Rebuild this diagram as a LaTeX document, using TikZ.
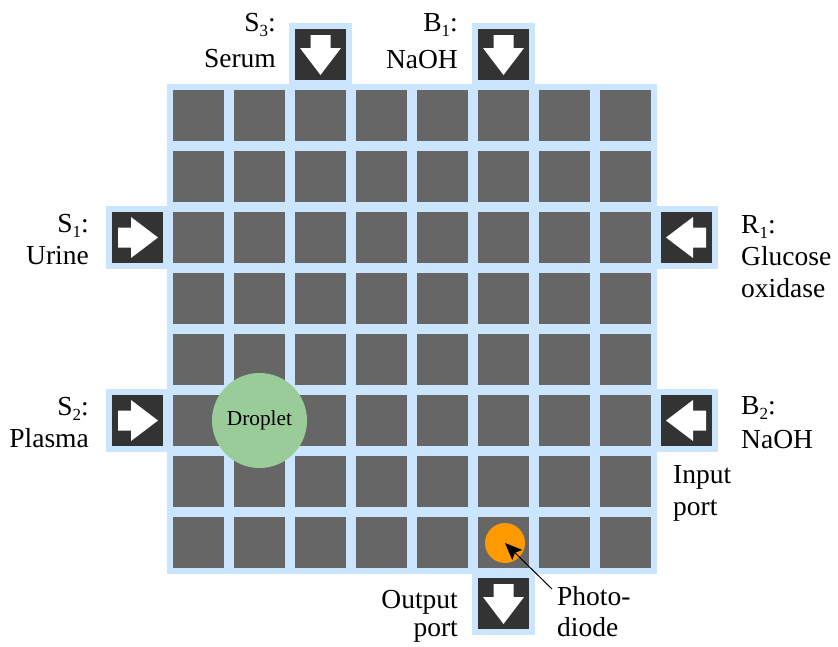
\documentclass[tikz,border=0pt]{standalone}
\usepackage{fontspec}
\setmainfont{Liberation Serif}
\newfontfamily\lserif{Liberation Serif}
\usetikzlibrary{arrows.meta}
\definecolor{gridblue}{RGB}{204,229,255}
\definecolor{cellgray}{RGB}{102,102,102}
\definecolor{portdark}{RGB}{51,51,51}
\definecolor{dropgreen}{RGB}{153,204,153}
\definecolor{diodeorange}{RGB}{255,153,0}
\newcommand\myport[4]{%
  \node[portbg] (#1bg) at (#2,#3) {};
  \node[portbox] (#1) at (#2,#3) {};
  \fill[white, shift={(#2,#3)}, rotate=#4] (-10,-19.5) -- (10,-19.5) -- (10,-6.5) -- (20.5,-6.5) -- (0,20.5) -- (-20.5,-6.5) -- (-10,-6.5) -- cycle;
}
\newcommand\sub[1]{\raisebox{-5pt}{\fontsize{17}{17}\selectfont #1}}
\begin{document}
\begin{tikzpicture}[x=1pt,y=-1pt,
  cell/.style={rectangle, fill=cellgray, minimum size=51pt, inner sep=0pt},
  portbox/.style={rectangle, fill=portdark, minimum size=51pt, inner sep=0pt},
  portbg/.style={rectangle, fill=gridblue, minimum size=63pt, inner sep=0pt},
  lbl/.style={inner sep=0pt, font=\lserif\fontsize{27.5}{33}\selectfont},
  lblr/.style={lbl, anchor=base east},
  lbll/.style={lbl, anchor=base west}]
\useasboundingbox (0,0) rectangle (838,646);
\fill[gridblue] (167,84) rectangle (657,574);
% ports
\myport{pS3}{320.5}{54.5}{0}
\myport{pB1}{503.5}{54.5}{0}
\myport{pS1}{137.5}{237.5}{90}
\myport{pS2}{137.5}{420.5}{90}
\myport{pR1}{686.5}{237.5}{-90}
\myport{pB2}{686.5}{420.5}{-90}
\myport{pOut}{503.5}{603.5}{0}
% cells
\foreach \i in {0,...,7}
  \foreach \j in {0,...,7}
    \node[cell] (c\i\j) at ({198.5+61*\i},{115.5+61*\j}) {};
% droplet and photodiode
\node[circle, fill=dropgreen, minimum size=95pt, inner sep=0pt, font=\lserif\fontsize{21.3}{25}\selectfont] (drop) at (259.5,420.5) {Droplet};
\node[circle, fill=diodeorange, minimum size=40pt, inner sep=0pt] (diode) at (505,543) {};
\coordinate (diodetail) at (552,589);
\draw[line width=1pt, -{Stealth[length=17pt, width=14pt, inset=3pt]}] (diodetail) -- (diode.center);
% labels
\node[lblr] (tS3a) at (276,31) {S\sub{3}:};
\node[lblr] (tS3b) at (276,67) {Serum};
\node[lblr] (tB1a) at (458,31) {B\sub{1}:};
\node[lblr] (tB1b) at (458,68) {NaOH};
\node[lblr] (tS1a) at (89,232) {S\sub{1}:};
\node[lblr] (tS1b) at (89,264) {Urine};
\node[lblr] (tS2a) at (89,415) {S\sub{2}:};
\node[lblr] (tS2b) at (89,447) {Plasma};
\node[lbll] (tR1a) at (741,233) {R\sub{1}:};
\node[lbll] (tR1b) at (741,265) {Glucose};
\node[lbll] (tR1c) at (741,297) {oxidase};
\node[lbll] (tB2a) at (741,414) {B\sub{2}:};
\node[lbll] (tB2b) at (741,448) {NaOH};
\node[lbll] (tIna) at (673,483) {Input};
\node[lbll] (tInb) at (673,515) {port};
\node[lblr] (tOuta) at (458,608) {Output};
\node[lblr] (tOutb) at (458,636) {port};
\node[lbll] (tPha) at (557,605) {Photo-};
\node[lbll] (tPhb) at (557,636) {diode};
\end{tikzpicture}
\end{document}
